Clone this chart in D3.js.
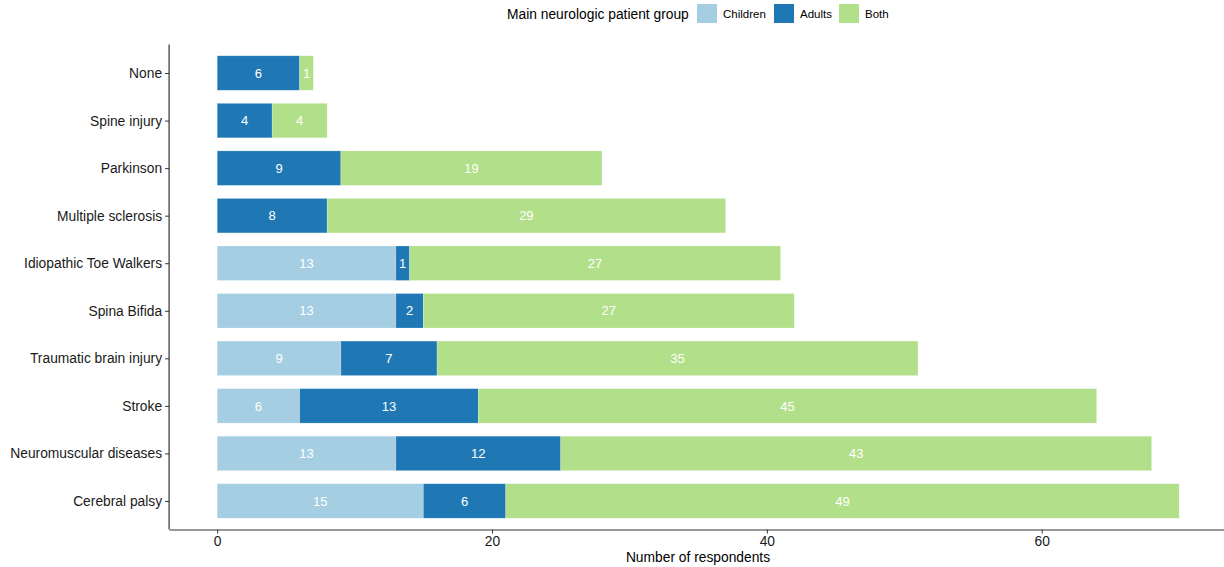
<!DOCTYPE html>
<html><head><meta charset="utf-8">
<script src="https://cdn.jsdelivr.net/npm/d3@7"></script>
<style>body{margin:0;background:#fff;} text{font-family:"Liberation Sans",Arial,sans-serif;}</style>
</head><body>
<svg id="c" width="1224" height="567"></svg>
<script>
const categories = ["None","Spine injury","Parkinson","Multiple sclerosis","Idiopathic Toe Walkers","Spina Bifida","Traumatic brain injury","Stroke","Neuromuscular diseases","Cerebral palsy"];
const children = [0,0,0,0,13,13,9,6,13,15];
const adults   = [6,4,9,8,1,2,7,13,12,6];
const both     = [1,4,19,29,27,27,35,45,43,49];
const groups = ["Children","Adults","Both"];
const colors = ["#A6CEE3","#1F78B4","#B2DF8A"];
const xTicks = [0,20,40,60];

const svg = d3.select("#c");
const pL = 169.1, pR = 1227.2, pT = 44.5, pB = 529.5;
const x = d3.scaleLinear().domain([-3.5,73.5]).range([pL,pR]);
const y = d3.scalePoint().domain(categories).range([pT,pB]).padding(0.6);
const bh = y.step()*0.725;

const rows = categories.map((c,i)=>({cat:c, vals:[children[i],adults[i],both[i]]}));
const segs = [];
rows.forEach(r=>{let acc=0; r.vals.forEach((v,k)=>{ if(v>0){segs.push({cat:r.cat,k,x0:acc,x1:acc+v,v});} acc+=v;});});

const g = svg.append("g");
g.selectAll("rect.bar").data(segs).join("rect").attr("class","bar")
 .attr("x",d=>x(d.x0)).attr("width",d=>x(d.x1)-x(d.x0))
 .attr("y",d=>y(d.cat)-bh/2).attr("height",bh)
 .attr("fill",d=>colors[d.k]).attr("stroke","#fff").attr("stroke-opacity",0.35).attr("stroke-width",0.6);
g.selectAll("text.val").data(segs).join("text").attr("class","val")
 .attr("x",d=>(x(d.x0)+x(d.x1))/2).attr("y",d=>y(d.cat)).attr("dy","0.36em")
 .attr("text-anchor","middle").attr("fill","#fff").attr("font-size",13).text(d=>d.v);

// axes
const xa = svg.append("g").attr("transform",`translate(0,${pB})`)
 .call(d3.axisBottom(x).tickValues(xTicks).tickSize(4).tickSizeOuter(0).tickPadding(3));
xa.select(".domain").attr("stroke","#333").attr("stroke-width",1.2);
xa.selectAll(".tick line").attr("stroke","#333");
xa.selectAll("text").attr("font-size",13.8).attr("fill","#1a1a1a").attr("font-family","Liberation Sans, Arial, sans-serif");

const ya = svg.append("g").attr("transform",`translate(${pL},0)`)
 .call(d3.axisLeft(y).tickSize(4).tickSizeOuter(0).tickPadding(3));
ya.select(".domain").attr("d",`M0,${pT}V${pB}`).attr("stroke","#333").attr("stroke-width",1.2);
ya.selectAll(".tick line").attr("stroke","#333");
ya.selectAll("text").attr("font-size",13.8).attr("fill","#1a1a1a").attr("font-family","Liberation Sans, Arial, sans-serif");

svg.append("text").attr("x",698).attr("y",562).attr("text-anchor","middle")
 .attr("font-size",13.8).attr("fill","#000").text("Number of respondents");

// legend
const lg = svg.append("g");
lg.append("text").attr("x",507).attr("y",19).attr("font-size",13.8).attr("fill","#000").text("Main neurologic patient group");
const lx = [697,774,839];
groups.forEach((gname,i)=>{
  lg.append("rect").attr("x",lx[i]).attr("y",4).attr("width",20).attr("height",19).attr("fill",colors[i]);
  lg.append("text").attr("x",lx[i]+26).attr("y",18).attr("font-size",11.5).attr("fill","#000").text(gname);
});
</script>
</body></html>
